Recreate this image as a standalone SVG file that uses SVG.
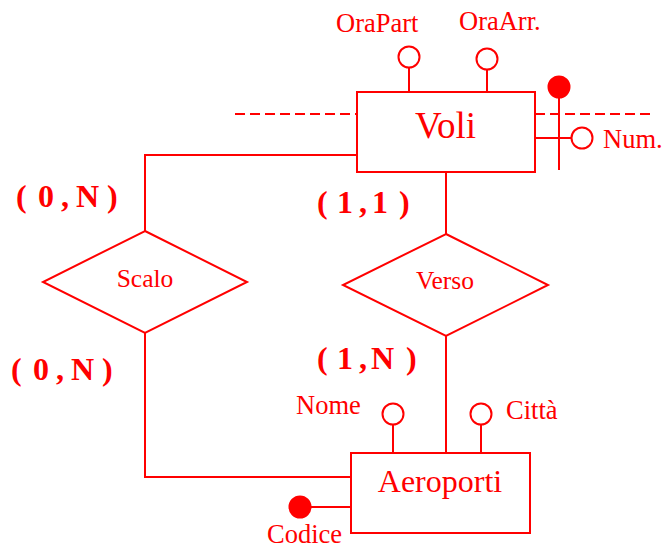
<svg xmlns="http://www.w3.org/2000/svg" width="663" height="548" viewBox="0 0 663 548">
<style>
.s{fill:none;stroke:#ff0000;stroke-width:2}
.f{fill:#ff0000;stroke:#ff0000;stroke-width:2}
.c{fill:#fff;stroke:#ff0000;stroke-width:2}
.t{font-family:"Liberation Serif",serif;fill:#ff0000;font-size:26.5px}
.e{font-family:"Liberation Serif",serif;fill:#ff0000;text-anchor:middle}
.r{font-family:"Liberation Serif",serif;fill:#ff0000;font-size:25.5px;text-anchor:middle}
.k{font-family:"Liberation Serif",serif;fill:#ff0000;font-size:32px;font-weight:bold}
</style>
<rect width="663" height="548" fill="#fff"/>
<g id="connectors">
<line class="s" x1="235" y1="114" x2="357" y2="114" stroke-dasharray="10 5"/>
<line class="s" x1="535" y1="114" x2="655" y2="114" stroke-dasharray="10 5"/>
<polyline class="s" points="357,155 145,155 145,231"/>
<polyline class="s" points="145,333 145,477 351,477"/>
<line class="s" x1="446" y1="172" x2="446" y2="234"/>
<line class="s" x1="446" y1="336" x2="446" y2="453"/>
</g>
<g id="voli">
<rect class="s" x="357" y="92" width="178" height="80"/>
<text class="e" x="445.5" y="138" font-size="37">Voli</text>
</g>
<g id="attr-orapart">
<line class="s" x1="409" y1="68" x2="409" y2="92"/>
<circle class="c" cx="409" cy="57" r="10.5"/>
<text class="t" x="336" y="32">OraPart</text>
</g>
<g id="attr-oraarr">
<line class="s" x1="487" y1="70" x2="487" y2="92"/>
<circle class="c" cx="487" cy="59" r="10.5"/>
<text class="t" x="459" y="30">OraArr.</text>
</g>
<g id="voli-identifier">
<line class="s" x1="559" y1="87" x2="559" y2="170"/>
<circle class="f" cx="559" cy="87" r="10.5"/>
<line class="s" x1="535" y1="138" x2="572" y2="138"/>
<circle class="c" cx="582" cy="138" r="10.5"/>
<text class="t" x="603" y="148">Num.</text>
</g>
<g id="scalo">
<polygon class="s" points="145,231 247,282 145,333 43,282"/>
<text class="r" x="145" y="287">Scalo</text>
</g>
<g id="verso">
<polygon class="s" points="446,234 548,285 446,336 343,285"/>
<text class="r" x="445" y="289">Verso</text>
</g>
<g id="aeroporti">
<rect class="s" x="351" y="453" width="179" height="80"/>
<text class="e" x="440" y="492" font-size="32">Aeroporti</text>
</g>
<g id="attr-nome">
<line class="s" x1="393" y1="425" x2="393" y2="453"/>
<circle class="c" cx="393" cy="414" r="10.5"/>
<text class="t" x="296" y="414">Nome</text>
</g>
<g id="attr-citta">
<line class="s" x1="481" y1="425" x2="481" y2="453"/>
<circle class="c" cx="481" cy="414" r="10.5"/>
<text class="t" x="506" y="419">Città</text>
</g>
<g id="attr-codice">
<line class="s" x1="300" y1="507" x2="351" y2="507"/>
<circle class="f" cx="300" cy="507" r="10.5"/>
<text class="t" x="267" y="543">Codice</text>
</g>
<g id="cardinalities">
<text class="k" x="16 38 61 76 107" y="207">(0,N)</text>
<text class="k" x="11 33 56 71 102" y="380">(0,N)</text>
<text class="k" x="317 337 359 372 399" y="213">(1,1)</text>
<text class="k" x="317 337 359 371 406" y="369">(1,N)</text>
</g>
</svg>
